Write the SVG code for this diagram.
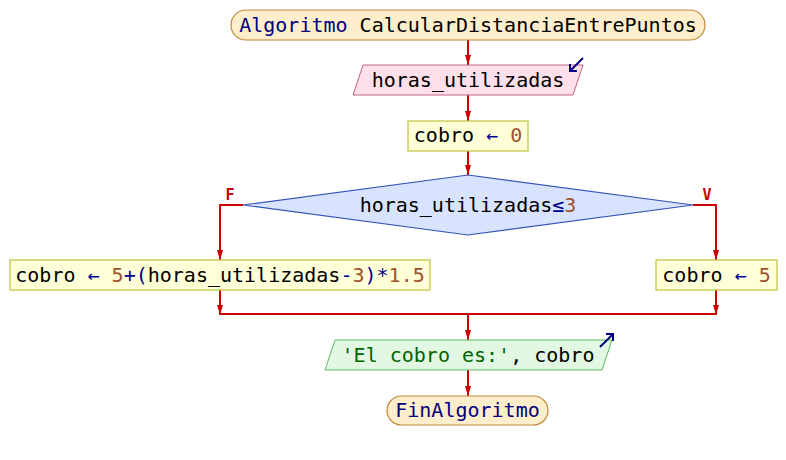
<svg xmlns="http://www.w3.org/2000/svg" width="786" height="460" viewBox="0 0 786 460">
  <defs>
    <marker id="ah" viewBox="0 0 10 6" refX="10" refY="3" markerWidth="10" markerHeight="6" markerUnits="userSpaceOnUse" orient="auto">
      <path d="M0,0 L10,3 L0,6 Z" fill="#cc0000"/>
    </marker>
    <style>
      text { font-family: "DejaVu Sans Mono", "Liberation Mono", monospace; font-size: 20px; text-anchor: middle; white-space: pre; fill: #000000; }
      .kw { fill: #000080; }
      .op { fill: #000090; }
      .num { fill: #a0522d; }
      .str { fill: #006400; }
      .term { fill: #ffeecc; stroke: #c08838; stroke-width: 1.2; }
      .inp { fill: #ffe0ea; stroke: #c06088; stroke-width: 1; }
      .proc { fill: #ffffd8; stroke: #c0c040; stroke-width: 1.2; }
      .dec { fill: #d8e4ff; stroke: #3355bb; stroke-width: 1.2; }
      .out { fill: #e2f8e2; stroke: #5cc05c; stroke-width: 1; }
      .io { fill: none; stroke: #000080; stroke-width: 2; }
      .flow { fill: none; stroke: #cc0000; stroke-width: 2; }
      .arr { marker-end: url(#ah); }
      .lbl { font-size: 15px; font-weight: bold; fill: #cc0000; }
    </style>
  </defs>

  <g id="connectors">
    <line class="flow arr" x1="468" y1="40" x2="468" y2="65"/>
    <line class="flow arr" x1="468" y1="95" x2="468" y2="121"/>
    <line class="flow arr" x1="468" y1="151" x2="468" y2="175"/>
    <polyline class="flow arr" points="243,205 220,205 220,260"/>
    <polyline class="flow arr" points="693,205 716,205 716,260"/>
    <line class="flow arr" x1="220" y1="290" x2="220" y2="315"/>
    <line class="flow arr" x1="716" y1="290" x2="716" y2="315"/>
    <line class="flow" x1="220" y1="314" x2="716" y2="314"/>
    <line class="flow arr" x1="468" y1="314" x2="468" y2="340"/>
    <line class="flow arr" x1="468" y1="370" x2="468" y2="396"/>
    <text class="lbl" x="230" y="200">F</text>
    <text class="lbl" x="707" y="200">V</text>
  </g>

  <g id="inicio">
    <rect class="term" x="231" y="10" width="474" height="30" rx="15" ry="15"/>
    <text x="468" y="32"><tspan class="kw">Algoritmo</tspan> CalcularDistanciaEntrePuntos</text>
  </g>

  <g id="leer">
    <polygon class="inp" points="363,65 583,65 573,95 353,95"/>
    <text x="468" y="87">horas_utilizadas</text>
    <path class="io" d="M583,58 L570,71 M570,64 L570,71 L577,71"/>
  </g>

  <g id="asignar-inicial">
    <rect class="proc" x="408" y="121" width="120" height="30"/>
    <text x="468" y="142">cobro <tspan class="op">←</tspan> <tspan class="num">0</tspan></text>
  </g>

  <g id="condicion">
    <polygon class="dec" points="468,175 693,205 468,235 243,205"/>
    <text x="468" y="212">horas_utilizadas<tspan class="op">≤</tspan><tspan class="num">3</tspan></text>
  </g>

  <g id="rama-falso">
    <rect class="proc" x="10" y="260" width="420" height="30"/>
    <text x="220" y="282">cobro <tspan class="op">←</tspan> <tspan class="num">5</tspan><tspan class="op">+(</tspan>horas_utilizadas<tspan class="op">-</tspan><tspan class="num">3</tspan><tspan class="op">)*</tspan><tspan class="num">1.5</tspan></text>
  </g>

  <g id="rama-verdadero">
    <rect class="proc" x="656" y="260" width="121" height="30"/>
    <text x="716.5" y="282">cobro <tspan class="op">←</tspan> <tspan class="num">5</tspan></text>
  </g>

  <g id="escribir">
    <polygon class="out" points="335,340 612,340 602,370 325,370"/>
    <text x="468" y="362"><tspan class="str">'El cobro es:'</tspan>, cobro</text>
    <path class="io" d="M600,347 L613,334 M606,334 L613,334 L613,341"/>
  </g>

  <g id="fin">
    <rect class="term" x="387" y="396" width="161" height="29" rx="14.5" ry="14.5"/>
    <text x="467.5" y="417" class="kw">FinAlgoritmo</text>
  </g>
</svg>
